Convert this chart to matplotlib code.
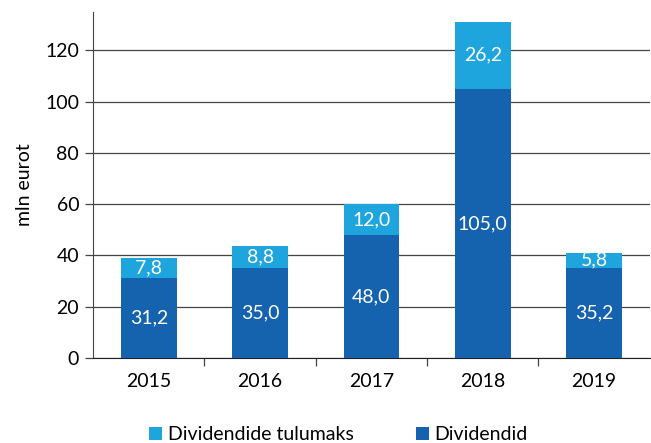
import matplotlib.pyplot as plt
import numpy as np

years = ["2015", "2016", "2017", "2018", "2019"]
dividends = [31.2, 35.0, 48.0, 105.0, 35.2]
dividend_tax = [7.8, 8.8, 12.0, 26.2, 5.8]

DARK = "#1562ae"
LIGHT = "#1fa5de"
FS = 14

plt.rcParams["font.family"] = ["Lato", "DejaVu Sans"]

fig = plt.figure(figsize=(6.51, 4.43), dpi=100)
ax = fig.add_axes([0.143, 0.192, 0.855, 0.781])

x = np.arange(len(years))
ax.bar(x, dividends, width=0.5, color=DARK, zorder=3, label="Dividendid")
ax.bar(x, dividend_tax, width=0.5, bottom=dividends, color=LIGHT, zorder=3,
       label="Dividendide tulumaks")

for i in range(len(years)):
    ax.text(x[i], dividends[i] / 2, f"{dividends[i]:.1f}".replace(".", ","),
            ha="center", va="center", color="white", fontsize=FS, zorder=4)
    ax.text(x[i], dividends[i] + dividend_tax[i] / 2,
            f"{dividend_tax[i]:.1f}".replace(".", ","),
            ha="center", va="center", color="white", fontsize=FS, zorder=4)

ax.set_xlim(-0.5, len(years) - 0.5)
ax.set_ylim(0, 135)
ax.set_yticks(range(0, 121, 20))
ax.yaxis.grid(True, color="#444444", linewidth=0.9, zorder=0)
ax.set_xticks(x)
ax.set_xticklabels(years)
ax.set_xticks(np.arange(0.5, len(years) - 1, 1), minor=True)
ax.tick_params(axis="x", which="major", length=0, pad=11, labelsize=FS)
ax.tick_params(axis="x", which="minor", length=6, width=0.9, color="#444444")
ax.tick_params(axis="y", length=6, width=0.9, color="#444444", labelsize=FS, pad=4)
for side in ["top", "right"]:
    ax.spines[side].set_visible(False)
ax.spines["left"].set_color("#444444")
ax.spines["bottom"].set_color("#222222")
ax.set_ylabel("mln eurot", fontsize=FS, labelpad=9)

handles, labels = ax.get_legend_handles_labels()
fig.legend(handles[::-1], labels[::-1], loc="lower center", ncol=2,
           bbox_to_anchor=(0.52, -0.04), frameon=False, fontsize=FS,
           handlelength=0.65, handleheight=0.65, handletextpad=0.3, columnspacing=3.2)

fig.savefig("out.png", dpi=100)
